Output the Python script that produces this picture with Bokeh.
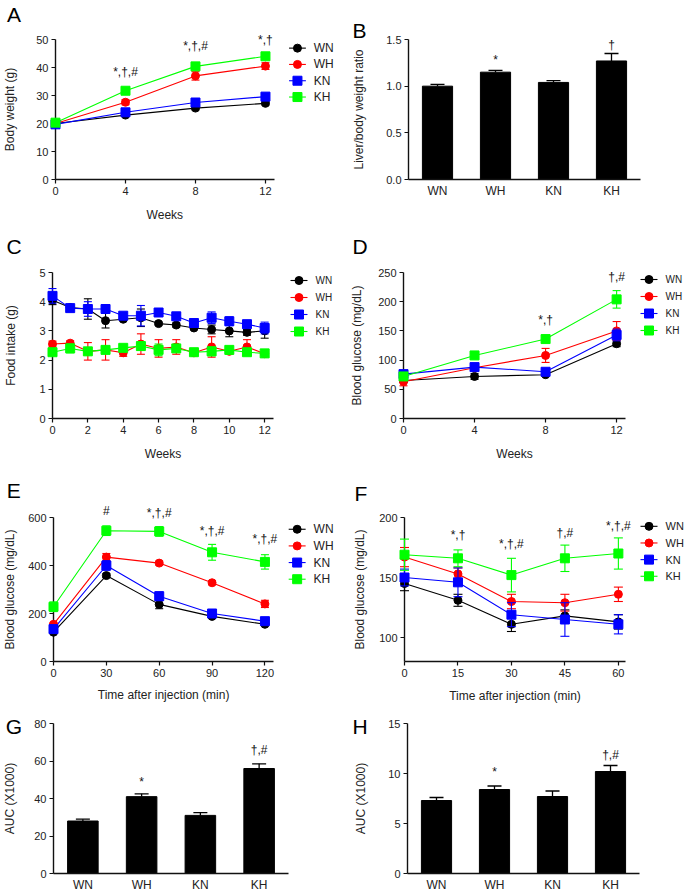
from bokeh.plotting import figure
from bokeh.models import (ColumnDataSource, Whisker, TeeHead,
                          FixedTicker, Range1d, FactorRange, NumeralTickFormatter)
from bokeh.core.properties import value
from bokeh.layouts import row, column
from bokeh.embed import file_html
from bokeh.resources import INLINE

FONT = "Liberation Sans"
TXT = "#222222"

groups = ["WN", "WH", "KN", "KH"]
colors = ["#000000", "#ff0000", "#0000ff", "#00ff00"]
markers = ["circle", "circle", "square", "square"]

# ---- A: body weight ----
a_weeks = [0, 4, 8, 12]
a_wn = [20.0, 23.0, 25.5, 27.2]
a_wn_err = [0.4, 0.5, 0.6, 0.6]
a_wh = [20.0, 27.6, 37.0, 40.5]
a_wh_err = [0.5, 0.9, 1.5, 1.2]
a_kn = [19.7, 24.0, 27.5, 29.6]
a_kn_err = [0.4, 0.6, 0.7, 0.7]
a_kh = [20.3, 31.7, 40.4, 44.0]
a_kh_err = [0.4, 0.6, 0.7, 0.8]
a_sig_x = [4, 8, 12]
a_sig_y = [36.0, 45.2, 47.3]
a_sig_txt = ["*,\u2020,#", "*,\u2020,#", "*,\u2020"]

# ---- B: liver/body weight ratio ----
b_vals = [1.00, 1.15, 1.04, 1.27]
b_err = [0.02, 0.02, 0.02, 0.08]
b_sig_txt = ["", "*", "", "\u2020"]
b_sig_y = [0, 1.21, 0, 1.37]

# ---- C: food intake ----
c_weeks = [0, 1, 2, 3, 4, 5, 6, 7, 8, 9, 10, 11, 12]
c_wn = [4.05, 3.80, 3.75, 3.35, 3.40, 3.45, 3.25, 3.20, 3.10, 3.05, 3.00, 2.95, 3.00]
c_wn_err = [0.15, 0.07, 0.35, 0.25, 0.05, 0.30, 0.05, 0.07, 0.05, 0.15, 0.20, 0.10, 0.25]
c_wh = [2.55, 2.58, 2.30, 2.35, 2.25, 2.55, 2.40, 2.45, 2.25, 2.45, 2.30, 2.45, 2.22]
c_wh_err = [0.10, 0.08, 0.30, 0.35, 0.12, 0.35, 0.30, 0.25, 0.05, 0.35, 0.08, 0.25, 0.05]
c_kn = [4.20, 3.78, 3.75, 3.75, 3.52, 3.52, 3.63, 3.50, 3.27, 3.45, 3.33, 3.23, 3.10]
c_kn_err = [0.25, 0.07, 0.25, 0.05, 0.07, 0.35, 0.05, 0.08, 0.05, 0.20, 0.15, 0.05, 0.20]
c_kh = [2.27, 2.40, 2.30, 2.35, 2.42, 2.48, 2.35, 2.40, 2.27, 2.30, 2.35, 2.27, 2.23]
c_kh_err = [0.05, 0.15, 0.05, 0.10, 0.10, 0.15, 0.20, 0.10, 0.05, 0.15, 0.10, 0.05, 0.05]

# ---- D: fasting blood glucose ----
d_weeks = [0, 4, 8, 12]
d_wn = [65, 72, 75, 128]
d_wn_err = [3, 5, 3, 5]
d_wh = [63, 87, 108, 150]
d_wh_err = [7, 5, 12, 16]
d_kn = [76, 88, 80, 143]
d_kn_err = [5, 5, 4, 10]
d_kh = [72, 108, 136, 204]
d_kh_err = [5, 4, 6, 15]
d_sig_x = [8, 12]
d_sig_y = [156, 231]
d_sig_txt = ["*,\u2020", "\u2020,#"]

# ---- E: glucose tolerance ----
e_min = [0, 30, 60, 90, 120]
e_wn = [122, 358, 238, 188, 155]
e_wn_err = [5, 8, 18, 8, 6]
e_wh = [155, 435, 410, 328, 240]
e_wh_err = [5, 15, 8, 8, 15]
e_kn = [135, 400, 272, 200, 168]
e_kn_err = [8, 20, 18, 10, 8]
e_kh = [228, 545, 542, 455, 415]
e_kh_err = [20, 20, 20, 33, 30]
e_sig_x = [30, 60, 90, 120]
e_sig_y = [596, 588, 514, 482]
e_sig_txt = ["#", "*,\u2020,#", "*,\u2020,#", "*,\u2020,#"]

# ---- F: insulin tolerance ----
f_min = [0, 15, 30, 45, 60]
f_wn = [145, 131, 111, 118, 113]
f_wn_err = [6, 5, 6, 5, 6]
f_wh = [167, 153, 130, 129, 136]
f_wh_err = [8, 5, 6, 7, 6]
f_kn = [150, 146, 119, 115, 111]
f_kn_err = [7, 12, 10, 14, 8]
f_kh = [169, 166, 152, 166, 170]
f_kh_err = [13, 7, 14, 11, 13]
f_sig_x = [15, 30, 45, 60]
f_sig_y = [180, 172, 181, 187]
f_sig_txt = ["*,\u2020", "*,\u2020,#", "\u2020,#", "*,\u2020,#"]

# ---- G / H: AUC ----
g_vals = [28, 41, 31, 56]
g_err = [1.0, 1.5, 1.5, 2.5]
g_sig_txt = ["", "*", "", "\u2020,#"]
g_sig_y = [0, 45.0, 0, 62.0]
h_vals = [7.3, 8.4, 7.7, 10.2]
h_err = [0.3, 0.35, 0.55, 0.6]
h_sig_txt = ["", "*", "", "\u2020,#"]
h_sig_y = [0, 9.5, 0, 11.2]


class Panel:
    """fw/xr give the pixel scale of the drawn x axis; the frame itself may be wider
    (to hold the legend), with the x axis line limited to xr via bounds."""

    def __init__(self, w, h, left, top, fw, fh, xr, yr, ylab_standoff,
                 categorical=False, extend=False):
        self.left, self.top, self.fw, self.fh, self.xr, self.yr = left, top, fw, fh, xr, yr
        frame_w = (w - left - 1) if extend else fw
        if categorical:
            x_range = FactorRange(*groups)
        else:
            x_end = xr[0] + frame_w / fw * (xr[1] - xr[0])
            x_range = Range1d(xr[0], x_end)
        p = figure(width=w, height=h, x_range=x_range, y_range=Range1d(*yr),
                   output_backend="svg", toolbar_location=None,
                   min_border_left=left, min_border_top=top,
                   min_border_right=w - left - frame_w, min_border_bottom=h - top - fh)
        p.outline_line_color = None
        p.grid.visible = False
        p.background_fill_color = "white"
        p.border_fill_color = "white"
        for ax in (p.xaxis[0], p.yaxis[0]):
            ax.axis_line_color = "#111111"
            ax.axis_line_width = 1.4
            ax.major_tick_line_color = "#111111"
            ax.major_tick_line_width = 1.2
            ax.major_tick_out = 4
            ax.major_tick_in = 0
            ax.minor_tick_out = 0
            ax.minor_tick_in = 0
            ax.major_label_text_font = FONT
            ax.major_label_text_font_size = "11px"
            ax.major_label_text_color = TXT
            ax.axis_label_text_font = FONT
            ax.axis_label_text_font_size = "12px"
            ax.axis_label_text_font_style = "normal"
            ax.axis_label_text_color = TXT
            ax.major_label_standoff = 3
        if not categorical:
            p.xaxis.bounds = xr
        p.yaxis.axis_label_standoff = ylab_standoff
        self.p = p

    # canvas pixel -> data coordinate through the figure's own linear scales
    def dx(self, px):
        return self.xr[0] + (px - self.left) / self.fw * (self.xr[1] - self.xr[0])

    def dy(self, py):
        return self.yr[1] - (py - self.top) / self.fh * (self.yr[1] - self.yr[0])

    def text(self, xs, ys, txts, size, align="center", baseline="bottom", color="#111111"):
        src = ColumnDataSource(dict(x=xs, y=ys, t=txts))
        self.p.text(x="x", y="y", text="t", source=src, text_font=value(FONT),
                    text_font_size=size, text_align=align, text_baseline=baseline,
                    text_color=color, level="overlay")

    def letter(self, letter, lx, ly):
        self.text([self.dx(lx)], [self.dy(ly)], [letter], "21px", align="left",
                  baseline="top", color="#000000")

    def xlabel(self, label, py):
        # x-axis title centred under the axis line (not under the widened frame)
        self.text([(self.xr[0] + self.xr[1]) / 2], [self.dy(py)], [label], "12px",
                  align="center", baseline="middle", color=TXT)

    def legend(self, gx, gy, font):
        # legend drawn inside the (widened) frame: line + marker + label per group
        for i, (name, col, mk) in enumerate(zip(groups, colors, markers)):
            cy = self.dy(gy + 17 * i)
            src = ColumnDataSource(dict(x0=[self.dx(gx)], x1=[self.dx(gx + 17)],
                                        xm=[self.dx(gx + 8.5)], y=[cy],
                                        xt=[self.dx(gx + 25)], t=[name]))
            self.p.segment(x0="x0", y0="y", x1="x1", y1="y", source=src, line_color=col,
                           line_width=1.1, level="overlay")
            self.p.scatter("xm", "y", source=src, marker=mk,
                           size=(8 if mk == "circle" else 9), fill_color=col,
                           line_color=col, level="overlay")
            self.p.text(x="xt", y="y", text="t", source=src, text_font=value(FONT),
                        text_font_size=font, text_align="left", text_baseline="middle",
                        text_color=TXT, level="overlay")


def line_panel(w, h, left, top, fw, fh, xr, yr, xticks, yticks, ylabel, ys_off,
               xs, series, cap=8):
    P = Panel(w, h, left, top, fw, fh, xr, yr, ys_off, extend=True)
    p = P.p
    p.xaxis.ticker = FixedTicker(ticks=xticks)
    p.yaxis.ticker = FixedTicker(ticks=yticks)
    p.yaxis.axis_label = ylabel
    for name, col, mk, (vals, errs) in zip(groups, colors, markers, series):
        src = ColumnDataSource(dict(x=xs, y=vals,
                                    lo=[v - e for v, e in zip(vals, errs)],
                                    hi=[v + e for v, e in zip(vals, errs)]))
        p.line("x", "y", source=src, line_color=col, line_width=1.1)
        p.segment(x0="x", y0="lo", x1="x", y1="hi", source=src, line_color=col,
                  line_width=1.1, level="overlay")
        p.scatter("x", "lo", source=src, marker="dash", size=cap, line_color=col,
                  line_width=1.1, level="overlay")
        p.scatter("x", "hi", source=src, marker="dash", size=cap, line_color=col,
                  line_width=1.1, level="overlay")
        p.scatter("x", "y", source=src, marker=mk, size=(8 if mk == "circle" else 9),
                  fill_color=col, line_color=col, level="overlay")
    return P


def bar_panel(w, h, left, top, fw, fh, yr, yticks, ylabel, ys_off, vals, errs, sig_txt, sig_y,
              fmt=None):
    P = Panel(w, h, left, top, fw, fh, (0, len(groups)), yr, ys_off, categorical=True)
    p = P.p
    p.yaxis.ticker = FixedTicker(ticks=yticks)
    if fmt:
        p.yaxis.formatter = NumeralTickFormatter(format=fmt)
    p.yaxis.axis_label = ylabel
    p.xaxis.major_tick_out = 0
    p.xaxis.major_label_text_font_size = "12px"
    p.xaxis.major_label_standoff = 4
    src = ColumnDataSource(dict(x=groups, top=vals, hi=[v + e for v, e in zip(vals, errs)]))
    p.add_layout(Whisker(source=src, base="x", lower="top", upper="hi", line_color="#000000",
                         line_width=1.3,
                         upper_head=TeeHead(size=14, line_color="#000000", line_width=1.3),
                         lower_head=None))
    p.vbar(x="x", top="top", bottom=0, width=0.52, source=src, fill_color="#000000",
           line_color="#000000")
    sx = [i + 0.5 for i, t in enumerate(sig_txt) if t]
    sy = [y for y, t in zip(sig_y, sig_txt) if t]
    st = [t for t in sig_txt if t]
    P.text(sx, sy, st, "12px")
    return P


LW, RW = 342, 343
H1, H2, H3, H4 = 230, 232, 242, 190

A = line_panel(LW, H1, 52, 39, 221, 146, (0, 12.5), (0, 50), a_weeks, [0, 10, 20, 30, 40, 50],
               "Body weight (g)", 16, a_weeks,
               [(a_wn, a_wn_err), (a_wh, a_wh_err), (a_kn, a_kn_err), (a_kh, a_kh_err)])
A.text(a_sig_x, a_sig_y, a_sig_txt, "12px")
A.legend(288, 48, "12px")
A.xlabel("Weeks", 222)
A.letter("A", 3, 1)

B = bar_panel(RW, H1, 66, 24, 232, 155, (0, 1.5), [0, 0.5, 1.0, 1.5], "Liver/body weight ratio",
              17, b_vals, b_err, b_sig_txt, b_sig_y, fmt="0.0")
B.letter("B", 10, 1)

C = line_panel(LW, H2, 52, 42, 221, 146, (0, 12.5), (0, 5), c_weeks[::2], [0, 1, 2, 3, 4, 5],
               "Food intake (g)", 18, c_weeks,
               [(c_wn, c_wn_err), (c_wh, c_wh_err), (c_kn, c_kn_err), (c_kh, c_kh_err)])
C.legend(290, 50, "10px")
C.xlabel("Weeks", 223)
C.letter("C", 6, 4)

D = line_panel(RW, H2, 61, 42, 222, 146, (0, 12.5), (0, 250), d_weeks, [0, 50, 100, 150, 200, 250],
               "Blood glucose (mg/dL)", 11, d_weeks,
               [(d_wn, d_wn_err), (d_wh, d_wh_err), (d_kn, d_kn_err), (d_kh, d_kh_err)])
D.text(d_sig_x, d_sig_y, d_sig_txt, "12px")
D.legend(298, 49, "10px")
D.xlabel("Weeks", 223)
D.letter("D", 10, 4)

E = line_panel(LW, H3, 52, 55, 221, 147, (0, 125), (0, 600), e_min, [0, 200, 400, 600],
               "Blood glucose (mg/dL)", 8, e_min,
               [(e_wn, e_wn_err), (e_wh, e_wh_err), (e_kn, e_kn_err), (e_kh, e_kh_err)])
E.text(e_sig_x, e_sig_y, e_sig_txt, "12px")
E.legend(288, 67, "12px")
E.xlabel("Time after injection (min)", 236)
E.letter("E", 5, 16)

F = line_panel(RW, H3, 62, 52, 221, 147, (0, 62), (80, 200), f_min, [100, 150, 200],
               "Blood glucose (mg/dL)", 9, f_min,
               [(f_wn, f_wn_err), (f_wh, f_wh_err), (f_kn, f_kn_err), (f_kh, f_kh_err)], cap=9)
F.text(f_sig_x, f_sig_y, f_sig_txt, "12px")
F.legend(298, 61, "11px")
F.xlabel("Time after injection (min)", 234)
F.letter("F", 12, 16)

G = bar_panel(LW, H4, 52, 19, 236, 151, (0, 80), [0, 20, 40, 60, 80], "AUC (X1000)", 14,
              g_vals, g_err, g_sig_txt, g_sig_y)
G.letter("G", 4, 10)
H = bar_panel(RW, H4, 65, 19, 232, 151, (0, 15), [0, 5, 10, 15], "AUC (X1000)", 17,
              h_vals, h_err, h_sig_txt, h_sig_y)
H.letter("H", 10, 10)

layout = column(row(A.p, B.p), row(C.p, D.p), row(E.p, F.p), row(G.p, H.p))

with open("out.html", "w") as f:
    f.write(file_html(layout, INLINE))
